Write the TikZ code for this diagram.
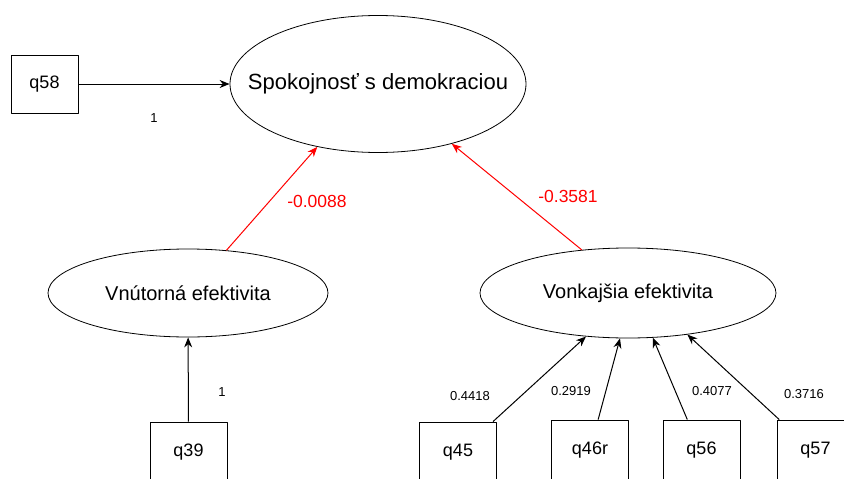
\documentclass[tikz,border=0pt]{standalone}
\usepackage{fontspec}
\setmainfont{Liberation Sans}
\usetikzlibrary{shapes.geometric,arrows.meta}
\tikzset{
	latent/.style={draw, ellipse, line width=0.8pt, inner sep=0pt},
	manifest/.style={draw, rectangle, line width=0.9pt, minimum width=77pt, minimum height=60pt, inner sep=0pt, font=\fontsize{18}{21}\selectfont},
	coef/.style={font=\fontsize{13}{15}\selectfont},
	effect/.style={text=red, font=\fontsize{17.5}{20}\selectfont}
}
\begin{document}
\begin{tikzpicture}[x=1pt, y=-1pt, line join=round, line width=1pt, >={Stealth[length=10pt,width=8pt]}]
		\useasboundingbox (0,0) rectangle (844,479);
		\clip (0,0) rectangle (844,479);
		% latentne premenne
		\node[latent, minimum width=296pt, minimum height=137pt, font=\fontsize{22}{26}\selectfont] (spok) at (378,84) {\makebox[0pt]{Spokojnosť s demokraciou}};
		\node[latent, minimum width=280pt, minimum height=88pt, font=\fontsize{20}{24}\selectfont] (vnut) at (188,293) {Vnútorná efektivita};
		\node[latent, minimum width=296pt, minimum height=90pt, font=\fontsize{20}{24}\selectfont] (vonk) at (628,293) {Vonkajšia efektivita};
		% indikatory
		\node[manifest, minimum width=67pt, minimum height=58pt] (q58) at (44.5,84) {q58};
		\node[manifest] (q39) at (188.5,452) {q39};
		\node[manifest] (q45) at (458,452) {q45};
		\node[manifest] (q46r) at (590,450) {q46r};
		\node[manifest] (q56) at (701.5,450) {q56};
		\node[manifest] (q57) at (815.5,450) {q57};
		% koeficienty
		\node[coef] (w58) at (154,118) {1};
		\node[coef] (w39) at (222,392) {1};
		\node[coef] (w45) at (470,396) {0.4418};
		\node[coef] (w46r) at (571,391) {0.2919};
		\node[coef] (w56) at (712,391) {0.4077};
		\node[coef] (w57) at (804,394) {0.3716};
		\node[effect] (b1) at (317,201) {-0.0088};
		\node[effect] (b2) at (568,196) {-0.3581};
		% cesty
		\draw[->] (q58) -- (spok);
		\draw[->, red] (vnut.48) -- (spok.226);
		\draw[->, red] (vonk.137) -- (spok.321);
		\draw[->] (q39) -- (vnut);
		\draw[->] (q45.41) -- (vonk.226);
		\draw[->] (q46r.75) -- (vonk.260);
		\draw[->] (q56.115) -- (vonk.299);
		\draw[->] (q57.140) -- (vonk.325);
\end{tikzpicture}
\end{document}
